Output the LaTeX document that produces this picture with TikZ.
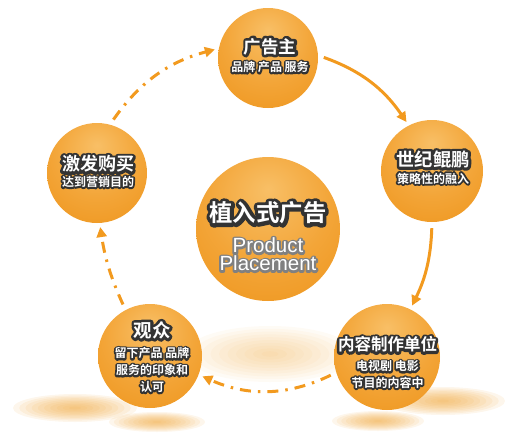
\documentclass[tikz,border=0pt]{standalone}
\usepackage{fontspec}
\setmainfont{Liberation Sans}
\newfontfamily\cjk{Noto Sans CJK SC Bold}
\newfontfamily\cjkrim{Noto Sans CJK SC Bold}[FakeBold=30]
\newfontfamily\latinfont{Liberation Sans}
\newfontfamily\latinrim{Liberation Sans}[FakeBold=20]
\usetikzlibrary{arrows.meta}

\definecolor{flowc}{HTML}{F29A1F}
\definecolor{orbL}{HTML}{F8BF66}
\definecolor{orbM}{HTML}{F3A538}
\definecolor{orbD}{HTML}{EB8D0E}
\definecolor{glow}{HTML}{F0A940}

\pgfdeclareradialshading{orbshade}{\pgfpoint{0bp}{14bp}}{color(0bp)=(orbL); color(22bp)=(orbM); color(50bp)=(orbD); color(70bp)=(orbD)}

% round joins for the stroked rim copy
\newcommand\roundjoin{\special{pdf:literal direct 1 j 1 J}}
\newcommand\miterjoin{\special{pdf:literal direct 0 j 0 J}}
% white letters with a dark rim: #1 size, #2 text
\newcommand\rimtext[2]{{\fontsize{#1}{#1}\selectfont
  \rlap{\roundjoin\special{pdf:bcolor [0.2] [0.2]}\cjkrim #2\special{pdf:ecolor}\miterjoin}\cjk #2}}
% white letters with a grey rim
\newcommand\shadowtext[2]{{\fontsize{#1}{#1}\selectfont
  \rlap{\roundjoin\special{pdf:bcolor [0.5] [0.5]}\latinrim #2\special{pdf:ecolor}\miterjoin}\latinfont #2}}

\tikzset{
  bubble/.style={circle, shade, shading=orbshade, minimum size=#1, inner sep=0pt},
  caption/.style={align=center, text=white, inner sep=0pt, font=\fontsize{12}{#1}\selectfont},
  flow/.style={draw=flowc, line width=3pt, -{Triangle[length=10pt,width=10pt]}, shorten <=6pt, shorten >=4pt},
  dashflow/.style={flow, dash pattern=on 11pt off 7pt on 2.5pt off 7pt},
}

\begin{document}
\begin{tikzpicture}[x=1pt,y=-1pt]
    \useasboundingbox (0,0) rectangle (516,442);

    % reflections on the floor
    \foreach \cx/\cy/\rx/\ry/\op in {270/354/85/28/.05, 75/408/62/14/.1, 157/422/48/10/.1,
        443/401/62/14/.1, 378/421/46/10/.1}
      \foreach \k in {1,...,10}
        \fill[glow, opacity=\op] (\cx,\cy) ellipse [x radius={\k*\rx/10*1pt}, y radius={\k*\ry/10*1pt}];

    \node (advertiser) [bubble=100pt] at (268,58) {};
    \node (agency) [bubble=102pt] at (432,171) {};
    \node (producer) [bubble=106pt] at (387,357) {};
    \node (audience) [bubble=104pt] at (150,356) {};
    \node (purchase) [bubble=100pt] at (97,173) {};
    \node (core) [bubble=144pt] at (268,229) {};

    \draw[flow] (advertiser.3) to[bend left=18] (agency.117);
    \draw[flow] (agency.-90) to[bend left=12] (producer.64);
    \draw[dashflow] (producer.197) to[bend left=25] (audience.-21);
    \draw[dashflow] (audience.118) to[bend left=8] (purchase.-87);
    \draw[dashflow] (purchase.75) to[bend left=20] (advertiser.169);

    \node (advertisertext) [caption=14pt] at (270,55.5)
      {\rimtext{17.5}{广告主}\\[4.5pt] \rimtext{12}{品牌 产品 服务}};
    \node (agencytext) [caption=14pt] at (433,167.5)
      {\rimtext{18.3}{世纪鲲鹏}\\[2.5pt] \rimtext{12}{策略性的融入}};
    \node (purchasetext) [caption=14pt] at (98,171.5)
      {\rimtext{18}{激发购买}\\[1.5pt] \rimtext{12}{达到营销目的}};
    \node (coretext) [caption=18pt] at (268,236.5)
      {\rimtext{23.4}{植入式广告}\\[13pt]
       \shadowtext{20.5}{Product}\\ \shadowtext{20.5}{Placement}};
    \node (audiencetext) [caption=16.8pt] at (152,357)
      {\rimtext{18.5}{观众}\\[3.7pt]
       \rimtext{12}{留下产品 品牌}\\ \rimtext{12}{服务的印象和}\\ \rimtext{12}{认可}};
    \node (producertext) [caption=16.5pt] at (387.5,362.5)
      {\rimtext{16.5}{内容制作单位}\\[3.5pt]
       \rimtext{12}{电视剧 电影}\\ \rimtext{12}{节目的内容中}};
\end{tikzpicture}
\end{document}
